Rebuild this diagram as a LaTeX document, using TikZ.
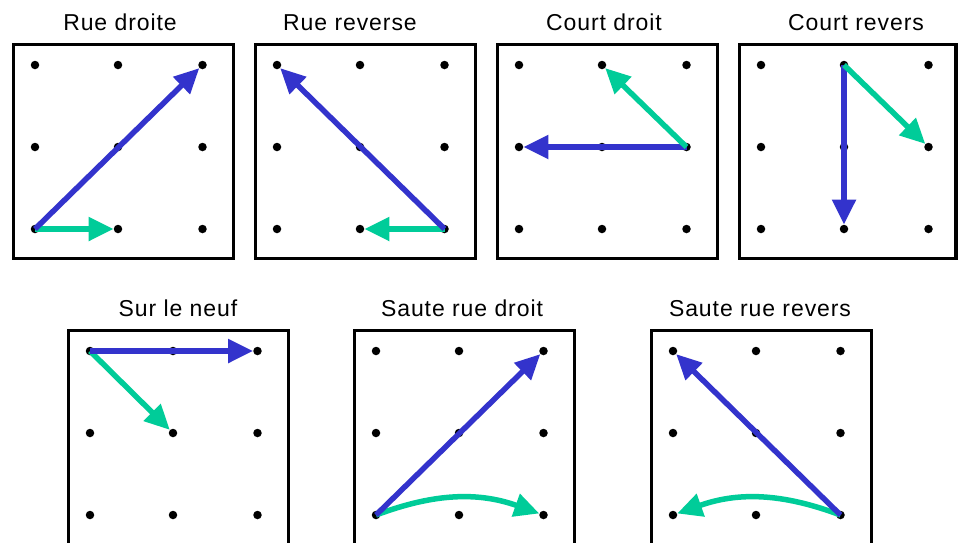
\documentclass[tikz,border=0pt]{standalone}
\usepackage{fontspec}
\newfontfamily\titlefont{Liberation Sans}[LetterSpace=4]
\usetikzlibrary{arrows.meta}
\definecolor{mvblue}{RGB}{51,51,204}
\definecolor{mvgreen}{RGB}{0,204,153}
\tikzset{
  dot/.style={circle,fill=black,inner sep=0pt,minimum size=8.5pt},
  frame/.style={draw=black,line width=3.5pt},
  title/.style={anchor=base,font=\titlefont\fontsize{23}{27}\selectfont,inner sep=0pt},
  bluearrow/.style={draw=mvblue,line width=5.5pt,-{Triangle[length=25pt,width=23pt]}},
  greenarrow/.style={draw=mvgreen,line width=5.5pt,-{Triangle[length=25pt,width=23pt]}},
}
\begin{document}
\begin{tikzpicture}[x=1pt,y=1pt]
\useasboundingbox (0,0) rectangle (958,-542);
\fill[white] (0,0) rectangle (958,-542);
\foreach \n/\x/\y/\w in {1/35/65/198.5, 2/277/65/198.5, 3/519/65/198.5, 4/761/65/195, 5/90/351/198.5, 6/376/351/198.5, 7/673/351/198.5} {
  \draw[frame] (\x-21.5,-\y+20.5) rectangle (\x+\w,-\y-193.5);
  \foreach \c/\dx in {0/0,1/83,2/167.5} {
    \foreach \r/\dy in {0/0,1/82,2/164} {
      \node[dot] (d\n-\r\c) at (\x+\dx,-\y-\dy) {};
    }
  }
}
% titles
\node[title] (t1) at (120,-30) {Rue droite};
\node[title] (t2) at (350,-30) {Rue reverse};
\node[title] (t3) at (604,-30) {Court droit};
\node[title] (t4) at (856,-30) {Court revers};
\node[title] (t5) at (178,-316) {Sur le neuf};
\node[title] (t6) at (462,-316) {Saute rue droit};
\node[title] (t7) at (760,-316) {Saute rue revers};
% Rue droite
\draw[greenarrow] (d1-20.center) -- (d1-21);
\draw[bluearrow] (d1-20.center) -- (d1-02);
% Rue reverse
\draw[greenarrow] (d2-22.center) -- (d2-21);
\draw[bluearrow] (d2-22.center) -- (d2-00);
% Court droit
\draw[bluearrow] (d3-12.center) -- (d3-10);
\draw[greenarrow] (d3-12.center) -- (d3-01);
% Court revers
\draw[bluearrow] (d4-01.center) -- (d4-21);
\draw[greenarrow] (d4-01.center) -- (d4-12);
% Sur le neuf
\draw[greenarrow] (d5-00.center) -- (d5-11);
\draw[bluearrow] (d5-00.center) -- (d5-02);
% Saute rue droit
\draw[greenarrow] (d6-20.center) to[bend left=20] (d6-22);
\draw[bluearrow] (d6-20.center) -- (d6-02);
% Saute rue revers
\draw[greenarrow] (d7-22.center) to[bend right=20] (d7-20);
\draw[bluearrow] (d7-22.center) -- (d7-00);
\end{tikzpicture}
\end{document}
